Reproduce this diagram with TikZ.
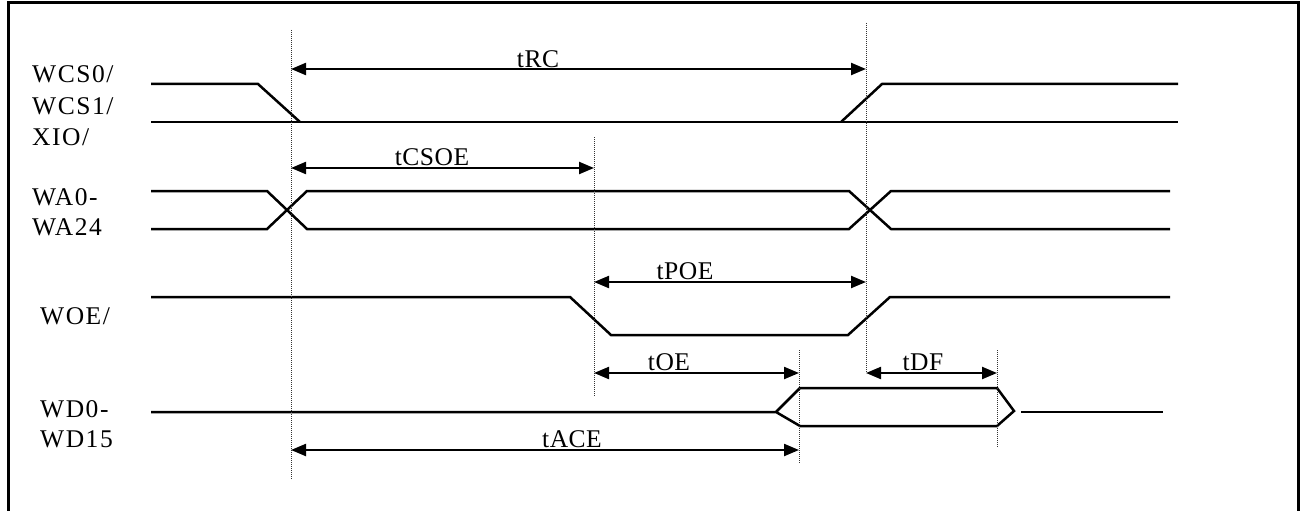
\documentclass[tikz,border=0pt]{standalone}
\usepackage{fontspec}
\setmainfont{Liberation Serif}
\newfontfamily\lblfont[LetterSpace=6]{Liberation Serif}
\newfontfamily\tfont[LetterSpace=2]{Liberation Serif}
\usetikzlibrary{arrows.meta}
\begin{document}
\begin{tikzpicture}[x=1pt,y=-1pt,
  sig/.style={line width=2.5pt,line join=miter,line cap=butt},
  guide/.style={line width=0.9pt,black!80,dash pattern=on 1pt off 1pt},
  dim/.style={line width=2.2pt,{Triangle[length=15pt,width=12pt]}-{Triangle[length=15pt,width=12pt]}},
  siglabel/.style={anchor=base west,inner sep=0pt,font=\fontsize{25.5}{30}\lblfont},
  tlabel/.style={anchor=base,inner sep=0pt,font=\fontsize{25.5}{30}\tfont}]
\useasboundingbox (0,0) rectangle (1304,511);
% frame
\draw[line width=3pt] (8,520) -- (8,3) -- (1298,3) -- (1298,520);

% signal labels
\node[siglabel] (lwcs0) at (32,82) {WCS0/};
\node[siglabel] (lwcs1) at (32,114) {WCS1/};
\node[siglabel] (lxio) at (32,145) {XIO/};
\node[siglabel] (lwa0) at (32,205) {WA0-};
\node[siglabel] (lwa24) at (32,235) {WA24};
\node[siglabel] (lwoe) at (40,324) {WOE/};
\node[siglabel] (lwd0) at (40,417) {WD0-};
\node[siglabel] (lwd15) at (40,447) {WD15};

% WCS0/ WCS1/ XIO/
\draw[sig] (151,84) -- (258,84) -- (300,122);
\draw[sig] (151,122) -- (1178,122);
\draw[sig] (841,122) -- (882,84) -- (1178,84);

% WA0-WA24
\draw[sig] (151,191) -- (267,191) -- (307,229) -- (849,229) -- (891,191) -- (1170,191);
\draw[sig] (151,229) -- (267,229) -- (307,191) -- (849,191) -- (891,229) -- (1170,229);

% WOE/
\draw[sig] (151,297) -- (570,297) -- (611,335) -- (848,335) -- (890,297) -- (1170,297);

% WD0-WD15
\draw[sig] (151,412) -- (776,412) -- (800,388) -- (997,388) -- (1014,411) -- (997,426) -- (800,426) -- (776,412);
\draw[sig] (1021,412) -- (1163,412);

% guide lines
\coordinate (g1t) at (291,30);  \coordinate (g1b) at (291,480);
\coordinate (g2t) at (594,137); \coordinate (g2b) at (594,396);
\coordinate (g3t) at (866,23);  \coordinate (g3b) at (866,373);
\coordinate (g4t) at (799,350); \coordinate (g4b) at (799,463);
\coordinate (g5t) at (997,350); \coordinate (g5b) at (997,448);
\draw[guide] (g1t) -- (g1b);
\draw[guide] (g2t) -- (g2b);
\draw[guide] (g3t) -- (g3b);
\draw[guide] (g4t) -- (g4b);
\draw[guide] (g5t) -- (g5b);

% dimension arrows
\coordinate (rcA) at (291,69);   \coordinate (rcB) at (866,69);
\coordinate (csA) at (291,168);  \coordinate (csB) at (594,168);
\coordinate (poA) at (594,282);  \coordinate (poB) at (866,282);
\coordinate (oeA) at (594,373);  \coordinate (oeB) at (799,373);
\coordinate (dfA) at (866,373);  \coordinate (dfB) at (997,373);
\coordinate (acA) at (291,450);  \coordinate (acB) at (799,450);
\draw[dim] (rcA) -- (rcB);
\draw[dim] (csA) -- (csB);
\draw[dim] (poA) -- (poB);
\draw[dim] (oeA) -- (oeB);
\draw[dim] (dfA) -- (dfB);
\draw[dim] (acA) -- (acB);

\node[tlabel] (trc) at (538,67) {tRC};
\node[tlabel] (tcsoe) at (432,165) {tCSOE};
\node[tlabel] (tpoe) at (685,279) {tPOE};
\node[tlabel] (toe) at (669,370) {tOE};
\node[tlabel] (tdf) at (923,370) {tDF};
\node[tlabel] (tace) at (572,447) {tACE};
\end{tikzpicture}
\end{document}
